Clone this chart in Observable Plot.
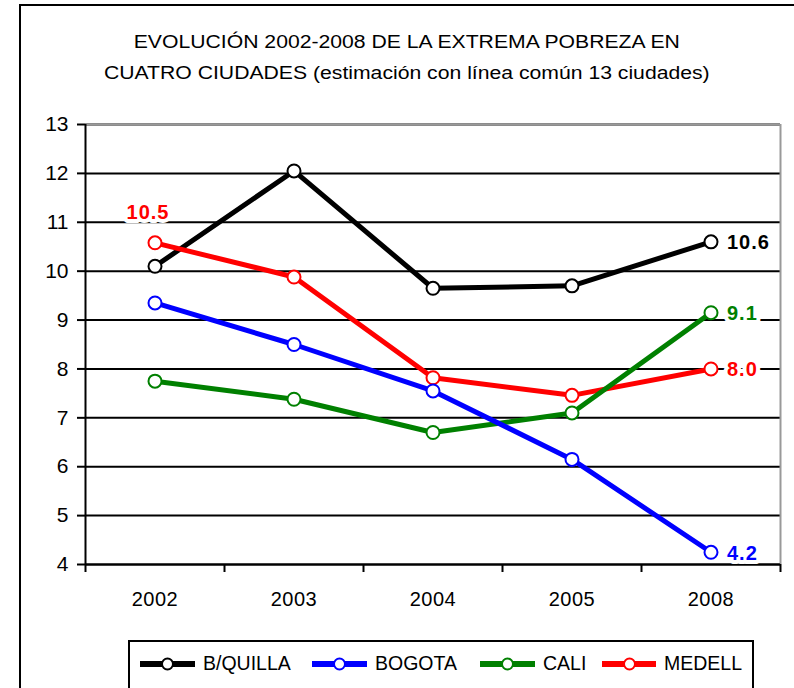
<!DOCTYPE html>
<html>
<head>
<meta charset="utf-8">
<script src="https://cdn.jsdelivr.net/npm/d3@7"></script>
<script src="https://cdn.jsdelivr.net/npm/@observablehq/plot@0.6"></script>
<style>
  html, body { margin: 0; padding: 0; background: #fff; }
  #page { position: relative; width: 794px; height: 688px; overflow: hidden; font-family: "Liberation Sans", Arial, sans-serif; }
  #frame { position: absolute; left: 19px; top: 4px; width: 800px; height: 720px; border: 2px solid #000; box-sizing: border-box; }
  #title { position: absolute; left: 20px; width: 774px; top: 27px; text-align: center; font-size: 17.5px; line-height: 31px; color: #000; transform: scaleX(1.21); transform-origin: 388px 0; }
  #chart { position: absolute; left: 0; top: 100px; }
  #chart g[aria-label="x-axis tick label"] text { letter-spacing: 0.5px; font-size: 20px; }
  #chart g[aria-label="y-axis tick label"] text { font-size: 21px; }
  #chart g[aria-label="text"] text { letter-spacing: 1px; }
  #legend { position: absolute; left: 128px; top: 640px; width: 626px; height: 60px; border: 2px solid #000; box-sizing: border-box; display: flex; align-items: flex-start; padding: 10px 0 0 10px; }
  .item { display: flex; align-items: center; font-size: 19.5px; }
  .item span { margin-left: 8px; }
</style>
</head>
<body>
<div id="page">
  <div id="frame"></div>
  <div id="title">EVOLUCIÓN 2002-2008 DE LA EXTREMA POBREZA EN<br>CUATRO CIUDADES (estimación con línea común 13 ciudades)</div>
  <div id="chart"></div>
  <div id="legend"></div>
</div>
<script>
const years = ["2002", "2003", "2004", "2005", "2008"];
const cities = ["B/QUILLA", "BOGOTA", "CALI", "MEDELL"];
const colors = ["#000000", "#0000ff", "#008000", "#ff0000"];
const bquilla = [10.1, 12.05, 9.65, 9.7, 10.6];
const bogota = [9.35, 8.5, 7.55, 6.15, 4.25];
const cali = [7.75, 7.38, 6.7, 7.1, 9.15];
const medell = [10.58, 9.88, 7.82, 7.46, 8.0];
const yTicks = [4, 5, 6, 7, 8, 9, 10, 11, 12, 13];
const valueLabels = [
  {city: "MEDELL", year: "2002", text: "10.5", pos: "top"},
  {city: "B/QUILLA", year: "2008", text: "10.6", pos: "right"},
  {city: "CALI", year: "2008", text: "9.1", pos: "right"},
  {city: "MEDELL", year: "2008", text: "8.0", pos: "right"},
  {city: "BOGOTA", year: "2008", text: "4.2", pos: "right"}
];
const legendItemWidths = [172, 168, 122, 140];

const seriesValues = [bquilla, bogota, cali, medell];
const rows = [];
cities.forEach((c, ci) => years.forEach((y, yi) => rows.push({city: c, year: y, xi: yi + 0.5, value: seriesValues[ci][yi]})));
const lookup = (c, y) => rows.find(r => r.city === c && r.year === y);
const labelRows = valueLabels.map(l => ({...l, ...lookup(l.city, l.year), text: l.text}));
const colorOf = c => colors[cities.indexOf(c)];
const drawOrder = ["B/QUILLA", "MEDELL", "CALI", "BOGOTA"];

const marks = [
  Plot.gridY(yTicks, {stroke: "#000", strokeOpacity: 1, strokeWidth: 2}),
  Plot.ruleY([13], {stroke: "#999", strokeWidth: 2}),
  Plot.ruleX([5], {stroke: "#999", strokeWidth: 2}),
  Plot.ruleY([4], {stroke: "#000", strokeWidth: 2}),
  Plot.ruleX([0], {stroke: "#000", strokeWidth: 2}),
  Plot.axisY(yTicks, {tickSize: 8, tickPadding: 9, fontSize: 21, label: null, stroke: "#000", strokeWidth: 2}),
  Plot.axisX([0, 1, 2, 3, 4, 5], {tickSize: 8, tickFormat: () => "", label: null, strokeWidth: 2}),
  Plot.axisX([0.5, 1.5, 2.5, 3.5, 4.5], {tickSize: 0, tickPadding: 27, tickFormat: d => years[Math.floor(d)], fontSize: 20, label: null})
];
for (const c of drawOrder) {
  const d = rows.filter(r => r.city === c);
  marks.push(Plot.line(d, {x: "xi", y: "value", stroke: colorOf(c), strokeWidth: 5}));
}
for (const c of drawOrder) {
  const d = rows.filter(r => r.city === c);
  marks.push(Plot.dot(d, {x: "xi", y: "value", r: 6.5, fill: "#fff", stroke: colorOf(c), strokeWidth: 2}));
}
marks.push(Plot.text(labelRows.filter(l => l.pos === "right"), {
  x: "xi", y: "value", text: "text", fill: d => colorOf(d.city), textAnchor: "start", dx: 16, dy: 1,
  fontSize: 20, fontWeight: "bold", stroke: "#fff", strokeWidth: 8, paintOrder: "stroke"
}));
marks.push(Plot.text(labelRows.filter(l => l.pos === "top"), {
  x: "xi", y: "value", text: "text", fill: d => colorOf(d.city), textAnchor: "middle", dx: -7, dy: -30,
  fontSize: 20, fontWeight: "bold", stroke: "#fff", strokeWidth: 8, paintOrder: "stroke"
}));

const chart = Plot.plot({
  width: 794,
  height: 520,
  marginLeft: 85,
  marginRight: 14,
  marginTop: 24,
  marginBottom: 56,
  style: {fontFamily: "'Liberation Sans', Arial, sans-serif", color: "#000", background: "transparent", overflow: "visible"},
  x: {type: "linear", domain: [0, 5]},
  y: {domain: [4, 13]},
  fill: {type: "identity"},
  marks
});
document.getElementById("chart").appendChild(chart);

const legend = document.getElementById("legend");
cities.forEach((c, i) => {
  const item = document.createElement("div");
  item.className = "item";
  item.style.width = legendItemWidths[i] + "px";
  const svg = d3.create("svg").attr("width", 55).attr("height", 20);
  svg.append("line").attr("x1", 0).attr("x2", 55).attr("y1", 10).attr("y2", 10).attr("stroke", colors[i]).attr("stroke-width", 6);
  svg.append("circle").attr("cx", 27.5).attr("cy", 10).attr("r", 5.5).attr("fill", "#fff").attr("stroke", colors[i]).attr("stroke-width", 2);
  item.appendChild(svg.node());
  const span = document.createElement("span");
  span.textContent = c;
  item.appendChild(span);
  legend.appendChild(item);
});
</script>
</body>
</html>
